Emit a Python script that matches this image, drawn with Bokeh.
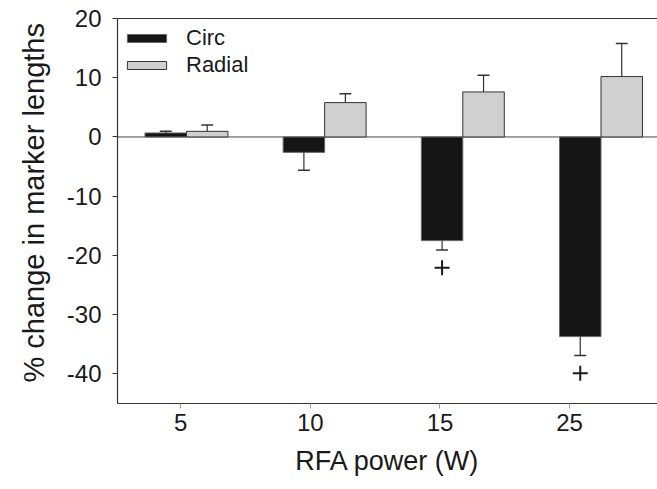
import numpy as np
from bokeh.plotting import figure
from bokeh.models import Range1d, FixedTicker, LinearAxis, Legend, LegendItem, Title
from bokeh.embed import file_html
from bokeh.resources import INLINE

# ---- data ----
power_labels = ["5", "10", "15", "25"]
circ = [0.68, -2.6, -17.5, -33.7]
circ_err = [0.27, 3.0, 1.6, 3.2]
radial = [0.95, 5.8, 7.6, 10.2]
radial_err = [1.05, 1.5, 2.8, 5.6]
circ_significant = [False, False, True, True]
y_ticks = [-40, -30, -20, -10, 0, 10, 20]
y_tick_labels = ["-40", "-30", "-20", "-10", "0", "10", "20"]
x_title = "RFA power (W)"
y_title = "% change in marker lengths"

FONT = "Liberation Sans"

# ---- layout helpers ----
n = len(power_labels)
tick_pos = list(range(n))
group_pos = [0.044 + 1.066 * i for i in range(n)]
bw = 0.32
circ_x = [g - bw / 2 for g in group_pos]
rad_x = [g + bw / 2 for g in group_pos]

p = figure(width=657, height=489, output_backend="svg", toolbar_location=None,
           x_range=Range1d(-0.488, 3.678), y_range=Range1d(-45, 20),
           min_border_left=117, min_border_right=0, min_border_top=18, min_border_bottom=86)
p.outline_line_color = None
p.grid.visible = False
p.background_fill_color = "white"

# zero line
p.segment(x0=[-0.488], y0=[0], x1=[3.678], y1=[0], line_color="#444444", line_width=1)

cb = p.vbar(x=circ_x, top=circ, bottom=0, width=bw, fill_color="#151515", line_color="#666666", line_width=1)
rb = p.vbar(x=rad_x, top=radial, bottom=0, width=bw, fill_color="#d0d0d0", line_color="#333333", line_width=1)

# one-sided error bars (away from zero)
def err_end(v, e):
    return v + e if v >= 0 else v - e

cap = 0.046
for xs, vals, errs in ((circ_x, circ, circ_err), (rad_x, radial, radial_err)):
    ends = [err_end(v, e) for v, e in zip(vals, errs)]
    p.segment(x0=xs, y0=vals, x1=xs, y1=ends, line_color="#333333", line_width=1.2)
    p.segment(x0=[x - cap for x in xs], y0=ends, x1=[x + cap for x in xs], y1=ends,
              line_color="#333333", line_width=1.5)

# significance markers
sx = [x for x, s in zip(circ_x, circ_significant) if s]
sy = [err_end(v, e) - 3.0 for v, e, s in zip(circ, circ_err, circ_significant) if s]
p.scatter(x=sx, y=sy, marker="cross", size=15, line_width=2, line_color="#1a1a1a")

# axes
xa = p.xaxis[0]
xa.ticker = FixedTicker(ticks=tick_pos)
xa.major_label_overrides = {i: lab for i, lab in zip(tick_pos, power_labels)}
xa.axis_label = x_title
ya = p.yaxis[0]
ya.ticker = FixedTicker(ticks=y_ticks)
ya.major_label_overrides = {t: lab for t, lab in zip(y_ticks, y_tick_labels)}

for ax in (xa, ya):
    ax.axis_line_color = "#333333"
    ax.axis_line_width = 1.2
    ax.major_tick_in = 0
    ax.major_tick_out = 5
    ax.minor_tick_line_color = None
    ax.major_label_text_font = FONT
    ax.major_label_text_font_size = "24px"
    ax.major_label_text_color = "#1a1a1a"
    ax.axis_label_text_font = FONT
    ax.axis_label_text_font_style = "normal"
    ax.axis_label_text_color = "#1a1a1a"
xa.major_tick_line_color = "#999999"
ya.major_tick_line_color = "#333333"
ya.major_label_standoff = 11
xa.major_label_standoff = 5
xa.axis_label_text_font_size = "27px"
xa.axis_label_standoff = 12

ytitle = Title(text=y_title, align="left", offset=21, standoff=28,
               text_font=FONT, text_font_size="29px", text_font_style="normal", text_color="#1a1a1a")
p.add_layout(ytitle, "left")

top_axis = LinearAxis(ticker=FixedTicker(ticks=[]), major_tick_line_color=None, minor_tick_line_color=None,
                      axis_line_color="#333333", axis_line_width=1.2)
p.add_layout(top_axis, "above")

legend = Legend(items=[LegendItem(label="Circ", renderers=[cb]), LegendItem(label="Radial", renderers=[rb])],
                location=(5, 325), glyph_width=49, glyph_height=10, label_standoff=15,
                label_text_font=FONT, label_text_font_size="22px", label_text_color="#1a1a1a",
                border_line_color=None, background_fill_alpha=0, margin=0, padding=4, spacing=1)
p.add_layout(legend)

open("out.html", "w").write(file_html(p, INLINE))
